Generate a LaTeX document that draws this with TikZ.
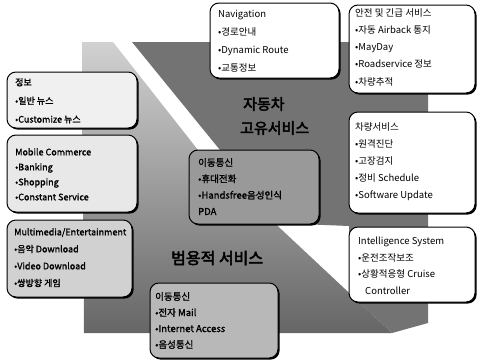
\documentclass[tikz,border=0pt]{standalone}
\usepackage{fontspec}
\setmainfont{Noto Sans CJK KR}
\newfontfamily\boldkr[FakeBold=1.5]{Noto Sans CJK KR}
\newfontfamily\heavykr[FakeBold=3]{Noto Sans CJK KR}
\usetikzlibrary{shadows}
\begin{document}
\begin{tikzpicture}[x=1pt,y=-1pt,
  card/.style={draw=black, line width=1pt, rounded corners=9pt, inner sep=0pt,
    drop shadow={opacity=1, fill=black, shadow xshift=1.6pt, shadow yshift=-1.6pt}},
  txt/.style={anchor=north west, inner sep=0pt, align=left},
  big/.style={anchor=west, inner sep=0pt, font=\fontsize{15}{15}\selectfont\heavykr}]
\useasboundingbox (0,0) rectangle (478,362);
% background shapes
\shade[top color=black!18, middle color=black!45, bottom color=black!60]
  (82,42) -- (113,42) -- (198,150) -- (282,230) -- (392,333) -- (84,333) -- cycle;
\fill[black!55]
  (132,42) -- (428,42) -- (428,323) -- (392,333) -- (349,293) -- (349,226)
  -- (300,224) -- (220,150) -- cycle;
% big labels
\node[big] (lblA) at (243,104) {자동차};
\node[big] (lblB) at (240,128) {고유서비스};
\node[big, font=\fontsize{16}{16}\selectfont\heavykr] (lblC) at (171,258) {범용적 서비스};
% cards
\node[card, fill=black!6, minimum width=130, minimum height=56] (info) at (72,100) {};
\node[card, fill=black!9, minimum width=130, minimum height=77] (mobile) at (72,173.5) {};
\node[card, fill=black!18, minimum width=125, minimum height=77] (multi) at (69.5,258.5) {};
\node[card, fill=white, minimum width=129, minimum height=75] (nav) at (274.5,40.5) {};
\node[card, fill=white, minimum width=126, minimum height=88] (safety) at (412,49) {};
\node[card, fill=white, minimum width=126, minimum height=101] (vehicle) at (412,162.5) {};
\node[card, fill=white, minimum width=126, minimum height=75] (intel) at (412,264.5) {};
\node[card, fill=black!40, minimum width=130, minimum height=74] (mobcom) at (254,187) {};
\node[card, fill=black!28, minimum width=128, minimum height=75] (general) at (214,320.5) {};
% texts
\node[txt, font=\fontsize{9}{18.5}\selectfont\boldkr] (infoT) at (15,78)
  {정보\\•일반 뉴스\\•Customize 뉴스};
\node[txt, font=\fontsize{9}{15}\selectfont\boldkr] (mobileT) at (15,148)
  {Mobile Commerce\\•Banking\\•Shopping\\•Constant Service};
\node[txt, font=\fontsize{9}{17}\selectfont\boldkr] (multiT) at (14,228)
  {Multimedia/Entertainment\\•음악 Download\\•Video Download\\•쌍방향 게임};
\node[txt, font=\fontsize{9.5}{18}\selectfont] (navT) at (218,10)
  {Navigation\\•경로안내\\•Dynamic Route\\•교통정보};
\node[txt, font=\fontsize{9.5}{17.3}\selectfont] (safetyT) at (355,8)
  {안전 및 긴급 서비스\\•자동 Airback 통지\\•MayDay\\•Roadservice 정보\\•차량추적};
\node[txt, font=\fontsize{9.5}{17}\selectfont] (vehicleT) at (355,122)
  {차량서비스\\•원격진단\\•고장검지\\•정비 Schedule\\•Software Update};
\node[txt, font=\fontsize{9.5}{16.5}\selectfont] (intelT) at (358,237)
  {Intelligence System\\•운전조작보조\\•상황적응형 Cruise\\\hspace*{7pt}Controller};
\node[txt, font=\fontsize{9.5}{16.3}\selectfont\boldkr] (mobcomT) at (198,158)
  {이동통신\\•휴대전화\\•Handsfree음성인식\\PDA};
\node[txt, font=\fontsize{9.5}{16}\selectfont\boldkr] (generalT) at (155,292)
  {이동통신\\•전자 Mail\\•Internet Access\\•음성통신};
\end{tikzpicture}
\end{document}
